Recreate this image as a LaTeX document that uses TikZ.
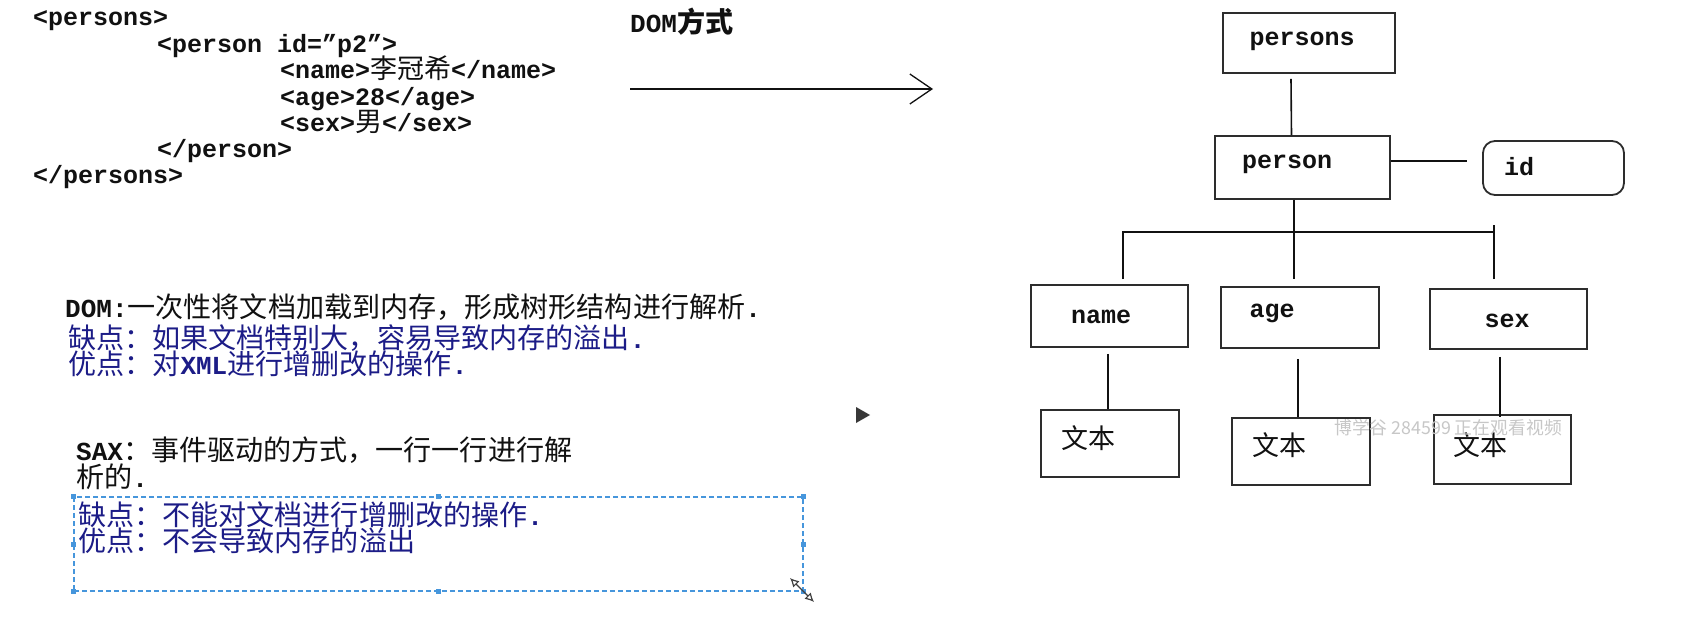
\documentclass[tikz,border=0pt]{standalone}
\usepackage{fontspec}
\usetikzlibrary{arrows.meta,calc}
\newfontfamily\cjkfont[Scale=1.08]{Noto Sans CJK SC}
\newfontfamily\lmono{Liberation Mono}
\newcommand\zh[1]{{\cjkfont\mdseries #1}}
\newcommand\zhb[1]{{\cjkfont\bfseries #1}}
\definecolor{ink}{RGB}{17,17,17}
\definecolor{navy}{RGB}{28,28,135}
\definecolor{selblue}{RGB}{70,150,220}
\definecolor{boxline}{RGB}{45,45,45}
\begin{document}
\begin{tikzpicture}[x=1pt,y=-1pt,
  xml/.style={anchor=base west,inner sep=0pt,text=ink,font=\fontsize{25}{30}\selectfont\lmono\bfseries},
  desc/.style={anchor=base west,inner sep=0pt,text height=19pt,text depth=5pt,text=ink,font=\fontsize{26}{30}\selectfont\lmono\bfseries},
  descb/.style={desc,text=navy},
  tbox/.style={draw=boxline,line width=1.8pt,inner sep=0pt},
  tlabel/.style={inner sep=0pt,text=ink,font=\fontsize{25}{30}\selectfont\lmono\bfseries},
  conn/.style={draw=ink,line width=1.6pt},
]
\fill[white] (0,0) rectangle (1701,644);
\useasboundingbox (0,0) rectangle (1701,644);

% XML source
\node[xml] (x1) at (33,26) {<persons>};
\node[xml] (x2) at (157,52.5) {<person id=”p2”>};
\node[xml] (x3) at (280,79) {<name>\zh{李冠希}</name>};
\node[xml] (x4) at (280,105.5) {<age>28</age>};
\node[xml] (x5) at (280,132) {<sex>\zh{男}</sex>};
\node[xml] (x6) at (157,158) {</person>};
\node[xml] (x7) at (33,184) {</persons>};

% DOM label and arrow
\node[anchor=west,inner sep=0pt,text=ink,font=\fontsize{26}{30}\selectfont\lmono\bfseries] (domway) at (630,22) {DOM\zhb{方式}};
\coordinate (arrS) at (630,89);
\coordinate (arrE) at (933,89);
\draw[line width=1.3pt,draw=ink,-{Straight Barb[length=22pt,width=30pt]}] (arrS) -- (arrE);

% descriptions
\node[desc] (dom) at (65,317.5) {DOM:\zh{一次性将文档加载到内存，形成树形结构进行解析}.};
\node[descb] (domc) at (68,348.5) {\zh{缺点：如果文档特别大，容易导致内存的溢出}.};
\node[descb] (domp) at (68,375) {\zh{优点：对}XML\zh{进行增删改的操作}.};
\node[desc] (sax) at (76,460) {SAX\zh{：事件驱动的方式，一行一行进行解}};
\node[desc] (sax2) at (76,487) {\zh{析的}.};

% selection box
\node[draw=selblue,dash pattern=on 5pt off 3pt,line width=1.3pt,minimum width=729pt,minimum height=94pt,inner sep=0pt] (selbox) at (438.5,544) {};
\foreach \a in {north west,north,north east,east,south east,south,south west,west}
  \fill[selblue] (selbox.\a) ++(-2.5,-2.5) rectangle ++(5,5);
\node[descb] (saxc) at (78,525) {\zh{缺点：不能对文档进行增删改的操作}.};
\node[descb] (saxp) at (78,551) {\zh{优点：不会导致内存的溢出}};

% cursor
\coordinate (curA) at (790,578);
\coordinate (curB) at (814,602);
\draw[black!75,line width=1.2pt,{Latex[open,length=9pt,width=9pt]}-{Latex[open,length=9pt,width=9pt]}] (curA) -- (curB);

% play triangle
\fill[black!78] (856,407) -- (870,415) -- (856,423) -- cycle;

% tree boxes
\node[tbox,minimum width=172pt,minimum height=60pt] (persons) at (1309,43) {};
\node[tbox,minimum width=175pt,minimum height=63pt] (person) at (1302.5,167.5) {};
\node[tbox,rounded corners=12pt,minimum width=141pt,minimum height=54pt] (id) at (1553.5,168) {};
\node[tbox,minimum width=157pt,minimum height=62pt] (name) at (1109.5,316) {};
\node[tbox,minimum width=158pt,minimum height=61pt] (age) at (1300,317.5) {};
\node[tbox,minimum width=157pt,minimum height=60pt] (sex) at (1508.5,319) {};
\node[tbox,minimum width=138pt,minimum height=67pt] (t1) at (1110,443.5) {};
\node[tbox,minimum width=138pt,minimum height=67pt] (t2) at (1301,451.5) {};
\node[tbox,minimum width=137pt,minimum height=69pt] (t3) at (1502.5,449.5) {};

% tree labels
\node[tlabel] (lpersons) at (1302,41) {persons};
\node[tlabel] (lperson) at (1287,164) {person};
\node[tlabel] (lid) at (1519,167) {id};
\node[tlabel] (lname) at (1101,317) {name};
\node[tlabel] (lage) at (1272,313) {age};
\node[tlabel] (lsex) at (1507,321) {sex};
\node[tlabel] (lt1) at (1088,438) {\zh{文本}};
\node[tlabel] (lt2) at (1279,445) {\zh{文本}};
\node[tlabel] (lt3) at (1480,445) {\zh{文本}};

% tree connectors
\draw[conn] ([shift={(-18,5)}]persons.south) -- ([xshift=-11]person.north);
\draw[conn] ([shift={(0,-6.5)}]person.east) -- ([shift={(-15,-7)}]id.west);
\draw[conn] ([xshift=-8.5]person.south) -- ([shift={(-6,-7)}]age.north);
\coordinate (busR) at (1495,232);
\draw[conn] ([shift={(13.5,-5)}]name.north) |- (busR);
\draw[conn] ([shift={(-14.5,-9)}]sex.north) -- ++(0,-54);
\draw[conn] ([shift={(-1.5,6)}]name.south) -- ([xshift=-2]t1.north);
\draw[conn] ([shift={(-2,10)}]age.south) -- ([xshift=-3]t2.north);
\draw[conn] ([shift={(-8.5,7)}]sex.south) -- ([shift={(-2.5,3)}]t3.north);

% watermark
\node[anchor=west,inner sep=0pt,text=black!22,font=\fontsize{16.5}{20}\selectfont\cjkfont] (wm) at (1334,428) {博学谷 284599 正在观看视频};
\end{tikzpicture}
\end{document}
